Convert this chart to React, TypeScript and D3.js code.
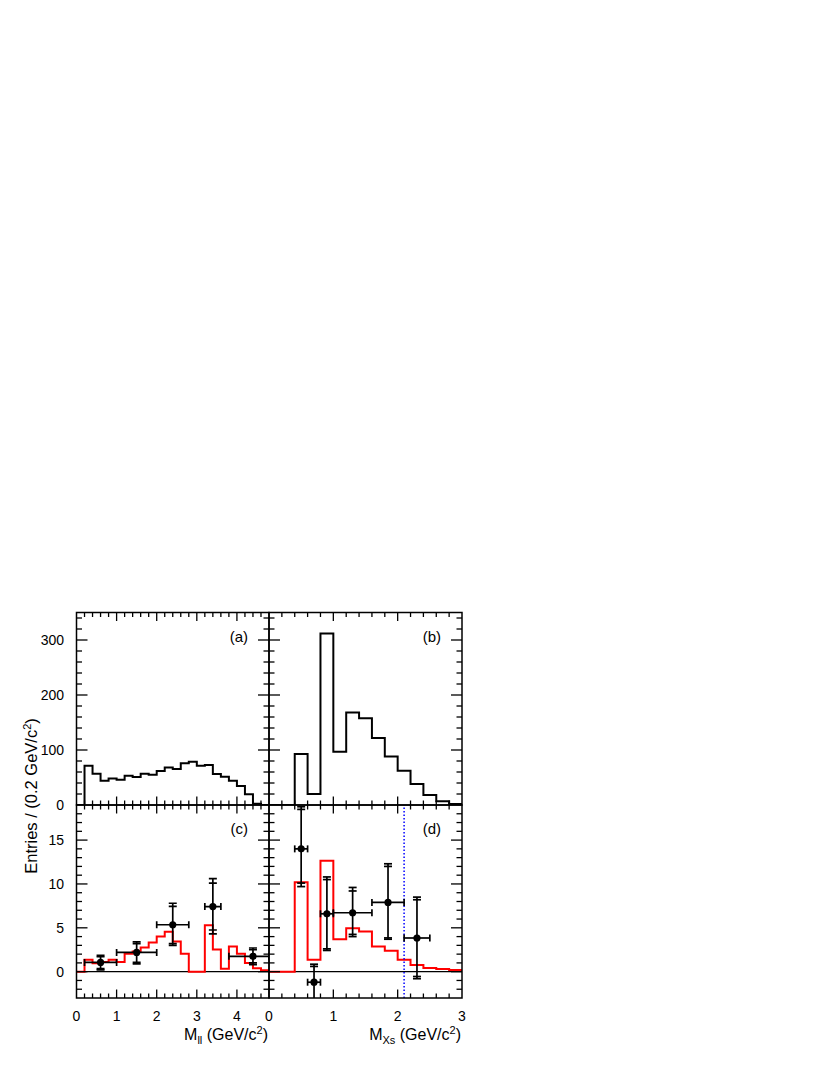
import React, { useEffect, useRef } from "react";
import * as d3 from "d3";

// panel (a): M_ll, bins of 0.2 from 0 to 4.8
const aCounts = [0, 71.5, 57, 44, 48, 46, 53, 51, 57, 55, 62, 68, 65.5, 75.7, 78.8, 71.5, 72.7, 56.4, 51.5, 44, 34.5, 19.4, 2.4, 0];
// panel (b): M_Xs, bins of 0.2 from 0 to 3
const bCounts = [0, 0, 92.7, 20, 312, 97, 168, 157.6, 122, 88, 62.4, 38, 18, 7, 2];
// red histograms in (c) and (d)
const cRed = [0, 1.36, 0.95, 1.1, 1.36, 1.1, 2.05, 2.3, 2.76, 3.33, 4.0, 4.55, 3.44, 2.05, 0, 0, 5.3, 2.53, 0.34, 2.88, 2.05, 0.98, 0.4, 0.15];
const dRed = [0, 0, 10.2, 1.36, 12.65, 3.7, 4.95, 4.58, 2.88, 2.39, 1.36, 0.76, 0.42, 0.3, 0.19];

// data points (c)
const cX = [0.6, 1.5, 2.4, 3.4, 4.4];
const cXLo = [0.2, 1.0, 2.0, 3.2, 3.8];
const cXHi = [1.0, 2.0, 2.8, 3.6, 4.8];
const cY = [1.05, 2.2, 5.35, 7.42, 1.75];
const cTotHi = [1.85, 3.4, 7.8, 10.6, 2.7];
const cStatHi = [1.7, 3.2, 7.45, 10.1, 2.5];
const cStatLo = [0.35, 1.05, 3.2, 4.75, 1.0];
const cTotLo = [0.2, 0.9, 3.0, 4.3, 0.8];

// data points (d)
const dX = [0.5, 0.7, 0.9, 1.3, 1.85, 2.3];
const dXLo = [0.4, 0.6, 0.8, 1.0, 1.6, 2.1];
const dXHi = [0.6, 0.8, 1.0, 1.6, 2.1, 2.5];
const dY = [14.0, -1.2, 6.6, 6.72, 7.9, 3.84];
const dTotHi = [18.8, 0.85, 10.8, 9.6, 12.3, 8.5];
const dStatHi = [18.5, 0.6, 10.5, 9.2, 12.0, 8.2];
const dStatLo = [10.1, -3.8, 2.6, 4.25, 3.85, -0.55];
const dTotLo = [9.7, -4, 2.42, 4.0, 3.7, -0.8];

const cutLine = 2.1;

const left = 76.5, mid = 269, right = 462;
const top = 612.5, split = 805, bottom = 998;
const font = "'Liberation Sans', Arial, Helvetica, sans-serif";

const App = () => {
  const ref = useRef<SVGSVGElement>(null);

  useEffect(() => {
    const svg = d3.select(ref.current);
    svg.selectAll("*").remove();

    const xA = d3.scaleLinear().domain([0, 4.8]).range([left, mid]);
    const xB = d3.scaleLinear().domain([0, 3]).range([mid, right]);
    const yTop = d3.scaleLinear().domain([0, 350]).range([split, top]);
    const yBot = d3.scaleLinear().domain([-3, 19]).range([bottom, split]);

    const panels = [
      { id: "a", x: xA, y: yTop, yMinor: 20, yMajor: 100, label: "(a)" },
      { id: "b", x: xB, y: yTop, yMinor: 20, yMajor: 100, label: "(b)" },
      { id: "c", x: xA, y: yBot, yMinor: 1, yMajor: 5, label: "(c)" },
      { id: "d", x: xB, y: yBot, yMinor: 1, yMajor: 5, label: "(d)" },
    ];

    const defs = svg.append("defs");
    panels.forEach(p => {
      const [x0, x1] = p.x.range();
      const [y0, y1] = p.y.range();
      defs.append("clipPath").attr("id", "clip-" + p.id)
        .append("rect")
        .attr("x", x0).attr("y", y1)
        .attr("width", x1 - x0).attr("height", y0 - y1);
    });

    const stepPath = (counts: number[], x: any, y: any) => {
      const w = 0.2;
      const pts: [number, number][] = [[x(0), y(0)]];
      counts.forEach((c, i) => {
        pts.push([x(i * w), y(c)]);
        pts.push([x((i + 1) * w), y(c)]);
      });
      return d3.line()(pts);
    };

    const g = (id: string) => svg.append("g").attr("clip-path", `url(#clip-${id})`);

    // black histograms
    g("a").append("path").attr("d", stepPath(aCounts, xA, yTop))
      .attr("fill", "none").attr("stroke", "black").attr("stroke-width", 2);
    g("b").append("path").attr("d", stepPath(bCounts, xB, yTop))
      .attr("fill", "none").attr("stroke", "black").attr("stroke-width", 2);

    // zero lines
    svg.append("line").attr("x1", xA(0)).attr("x2", xA(4.8)).attr("y1", yBot(0)).attr("y2", yBot(0))
      .attr("stroke", "black").attr("stroke-width", 1.3);
    svg.append("line").attr("x1", xB(0)).attr("x2", xB(3)).attr("y1", yBot(0)).attr("y2", yBot(0))
      .attr("stroke", "black").attr("stroke-width", 1.3);

    // red histograms
    g("c").append("path").attr("d", stepPath(cRed, xA, yBot))
      .attr("fill", "none").attr("stroke", "#ff0000").attr("stroke-width", 2);
    g("d").append("path").attr("d", stepPath(dRed, xB, yBot))
      .attr("fill", "none").attr("stroke", "#ff0000").attr("stroke-width", 2);

    // cut line
    svg.append("line").attr("x1", xB(cutLine)).attr("x2", xB(cutLine))
      .attr("y1", yBot(-3)).attr("y2", yBot(19))
      .attr("stroke", "#0000ff").attr("stroke-width", 1.5).attr("stroke-dasharray", "1.5,2");

    // points with errors
    const drawPoints = (id: string, x: any, y: any, px: number[], xlo: number[], xhi: number[], py: number[],
      thi: number[], shi: number[], slo: number[], tlo: number[]) => {
      const pg = g(id).attr("stroke", "black").attr("stroke-width", 1.7);
      px.forEach((v, i) => {
        const cx = x(v), cy = y(py[i]);
        pg.append("line").attr("x1", x(xlo[i])).attr("x2", x(xhi[i])).attr("y1", cy).attr("y2", cy);
        [xlo[i], xhi[i]].forEach(e => {
          pg.append("line").attr("x1", x(e)).attr("x2", x(e)).attr("y1", cy - 3.5).attr("y2", cy + 3.5);
        });
        pg.append("line").attr("x1", cx).attr("x2", cx).attr("y1", y(thi[i])).attr("y2", y(tlo[i]));
        [thi[i], shi[i], slo[i], tlo[i]].forEach(e => {
          pg.append("line").attr("x1", cx - 4).attr("x2", cx + 4).attr("y1", y(e)).attr("y2", y(e));
        });
        pg.append("circle").attr("cx", cx).attr("cy", cy).attr("r", 3.6).attr("fill", "black").attr("stroke", "none");
      });
    };
    drawPoints("c", xA, yBot, cX, cXLo, cXHi, cY, cTotHi, cStatHi, cStatLo, cTotLo);
    drawPoints("d", xB, yBot, dX, dXLo, dXHi, dY, dTotHi, dStatHi, dStatLo, dTotLo);

    // frames and ticks
    panels.forEach(p => {
      const [x0, x1] = p.x.range();
      const [y0, y1] = p.y.range();
      const fg = svg.append("g").attr("stroke", "black").attr("stroke-width", 1.3);
      const [dx0, dx1] = p.x.domain();
      d3.range(dx0, dx1 + 1e-6, 0.2).forEach(v => {
        const xv = p.x(v);
        if (Math.abs(xv - x0) < 0.5 || Math.abs(xv - x1) < 0.5) return;
        const major = Math.abs(v - Math.round(v)) < 1e-6;
        const len = major ? 8.5 : 4.5;
        fg.append("line").attr("x1", xv).attr("x2", xv).attr("y1", y0).attr("y2", y0 - len);
        fg.append("line").attr("x1", xv).attr("x2", xv).attr("y1", y1).attr("y2", y1 + len);
      });
      const [dy0, dy1] = p.y.domain();
      d3.range(dy0, dy1 + 1e-6, p.yMinor).forEach(v => {
        const yv = p.y(v);
        if (Math.abs(yv - y0) < 0.5 || Math.abs(yv - y1) < 0.5) return;
        const major = Math.abs(v / p.yMajor - Math.round(v / p.yMajor)) < 1e-6;
        const len = major ? 11 : 5.5;
        fg.append("line").attr("x1", x0).attr("x2", x0 + len).attr("y1", yv).attr("y2", yv);
        fg.append("line").attr("x1", x1).attr("x2", x1 - len).attr("y1", yv).attr("y2", yv);
      });
      fg.append("rect").attr("x", x0).attr("y", y1).attr("width", x1 - x0).attr("height", y0 - y1)
        .attr("fill", "none").attr("stroke-width", 1.5);

      svg.append("text").attr("x", x1 - 21).attr("y", y1 + 29)
        .attr("text-anchor", "end").attr("font-family", font).attr("font-size", 15)
        .text(p.label);
    });

    // y tick labels
    const yLab = (s: any, vals: number[]) => {
      vals.forEach(v => {
        svg.append("text").attr("x", 64).attr("y", s(v)).attr("dy", "0.36em")
          .attr("text-anchor", "end").attr("font-family", font).attr("font-size", 14).text(v);
      });
    };
    yLab(yTop, [0, 100, 200, 300]);
    yLab(yBot, [0, 5, 10, 15]);

    // x tick labels
    const xLab = (s: any, vals: number[]) => {
      vals.forEach(v => {
        svg.append("text").attr("x", s(v)).attr("y", 1021)
          .attr("text-anchor", "middle").attr("font-family", font).attr("font-size", 14).text(v);
      });
    };
    xLab(xA, [0, 1, 2, 3, 4]);
    xLab(xB, [0, 1, 2, 3]);

    // axis titles
    const xTitle = (xEnd: number, sub: string) => {
      const t = svg.append("text").attr("x", xEnd).attr("y", 1040)
        .attr("text-anchor", "end").attr("font-family", font).attr("font-size", 16);
      t.append("tspan").text("M");
      t.append("tspan").attr("font-size", 11).attr("dy", 3.5).text(sub);
      t.append("tspan").attr("dy", -3.5).text(" (GeV/c");
      t.append("tspan").attr("font-size", 11).attr("dy", -6).text("2");
      t.append("tspan").attr("dy", 6).text(")");
    };
    xTitle(268, "ll");
    xTitle(461, "Xs");

    const ty = svg.append("text").attr("transform", "translate(37,796) rotate(-90)")
      .attr("text-anchor", "middle").attr("font-family", font).attr("font-size", 16.5);
    ty.append("tspan").text("Entries / (0.2 GeV/c");
    ty.append("tspan").attr("font-size", 11).attr("dy", -6).text("2");
    ty.append("tspan").attr("dy", 6).text(")");
  }, []);

  return (
    <svg ref={ref} width={830} height={1075}
      style={{ position: "absolute", left: 0, top: 0, background: "white" }} />
  );
};

export default App;
